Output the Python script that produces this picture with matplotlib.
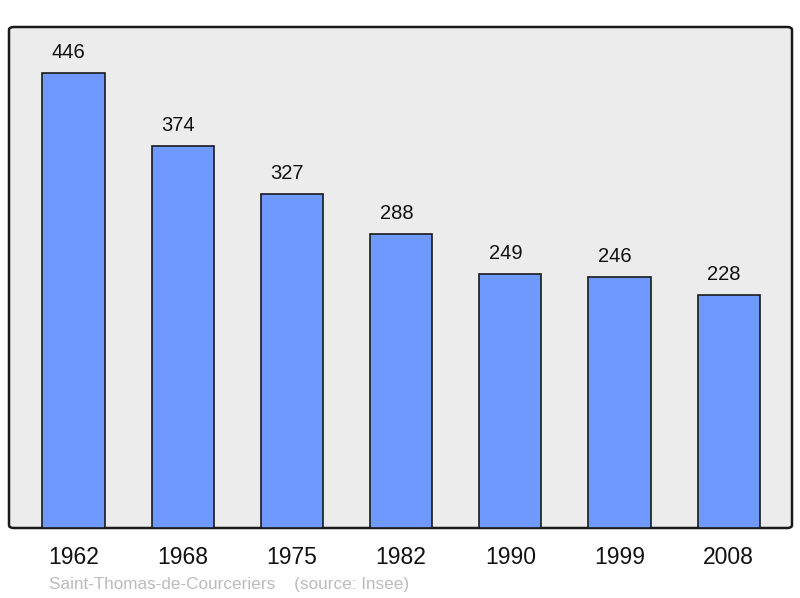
import matplotlib.pyplot as plt
from matplotlib.patches import FancyBboxPatch

plt.rcParams['font.family'] = ['Liberation Sans', 'DejaVu Sans']

years = ["1962", "1968", "1975", "1982", "1990", "1999", "2008"]
population = [446, 374, 327, 288, 249, 246, 228]
caption = "Saint-Thomas-de-Courceriers    (source: Insee)"

fig = plt.figure(figsize=(8, 5.98), dpi=100)
ax = fig.add_axes([9 / 800, 70 / 598, 783 / 800, 501 / 598])
ax.set_facecolor("none")

# rounded grey background frame
bg = FancyBboxPatch((0, 0), 1, 1, boxstyle="round,pad=0,rounding_size=0.006",
                    transform=ax.transAxes, facecolor="#ececec",
                    edgecolor="#1a1a1a", linewidth=1.8, zorder=0, clip_on=False)
ax.add_patch(bg)

x = range(len(years))
ax.bar(x, population, width=0.57, color="#7099ff", edgecolor="#1a1a1a",
       linewidth=1.2, zorder=2)

# value labels sit slightly left of the bar centres in the original
for xi, v in zip(x, population):
    ax.annotate(str(v), (xi, v), xytext=(-3.3, 8), textcoords="offset points",
                ha="center", va="bottom", fontsize=14.5, color="#111111")

ax.set_xlim(-0.59, 6.58)
ax.set_ylim(0, 491)
ax.set_xticks(list(x))
ax.set_xticklabels(years, fontsize=16.5, color="#111111")
ax.tick_params(axis="x", length=0, pad=13)
ax.set_yticks([])
for s in ax.spines.values():
    s.set_visible(False)

fig.text(49 / 800, 1 - 584 / 598, caption, fontsize=12.3, color="#bbbbbb",
         va="center", ha="left")

fig.savefig("out.png", dpi=100)
